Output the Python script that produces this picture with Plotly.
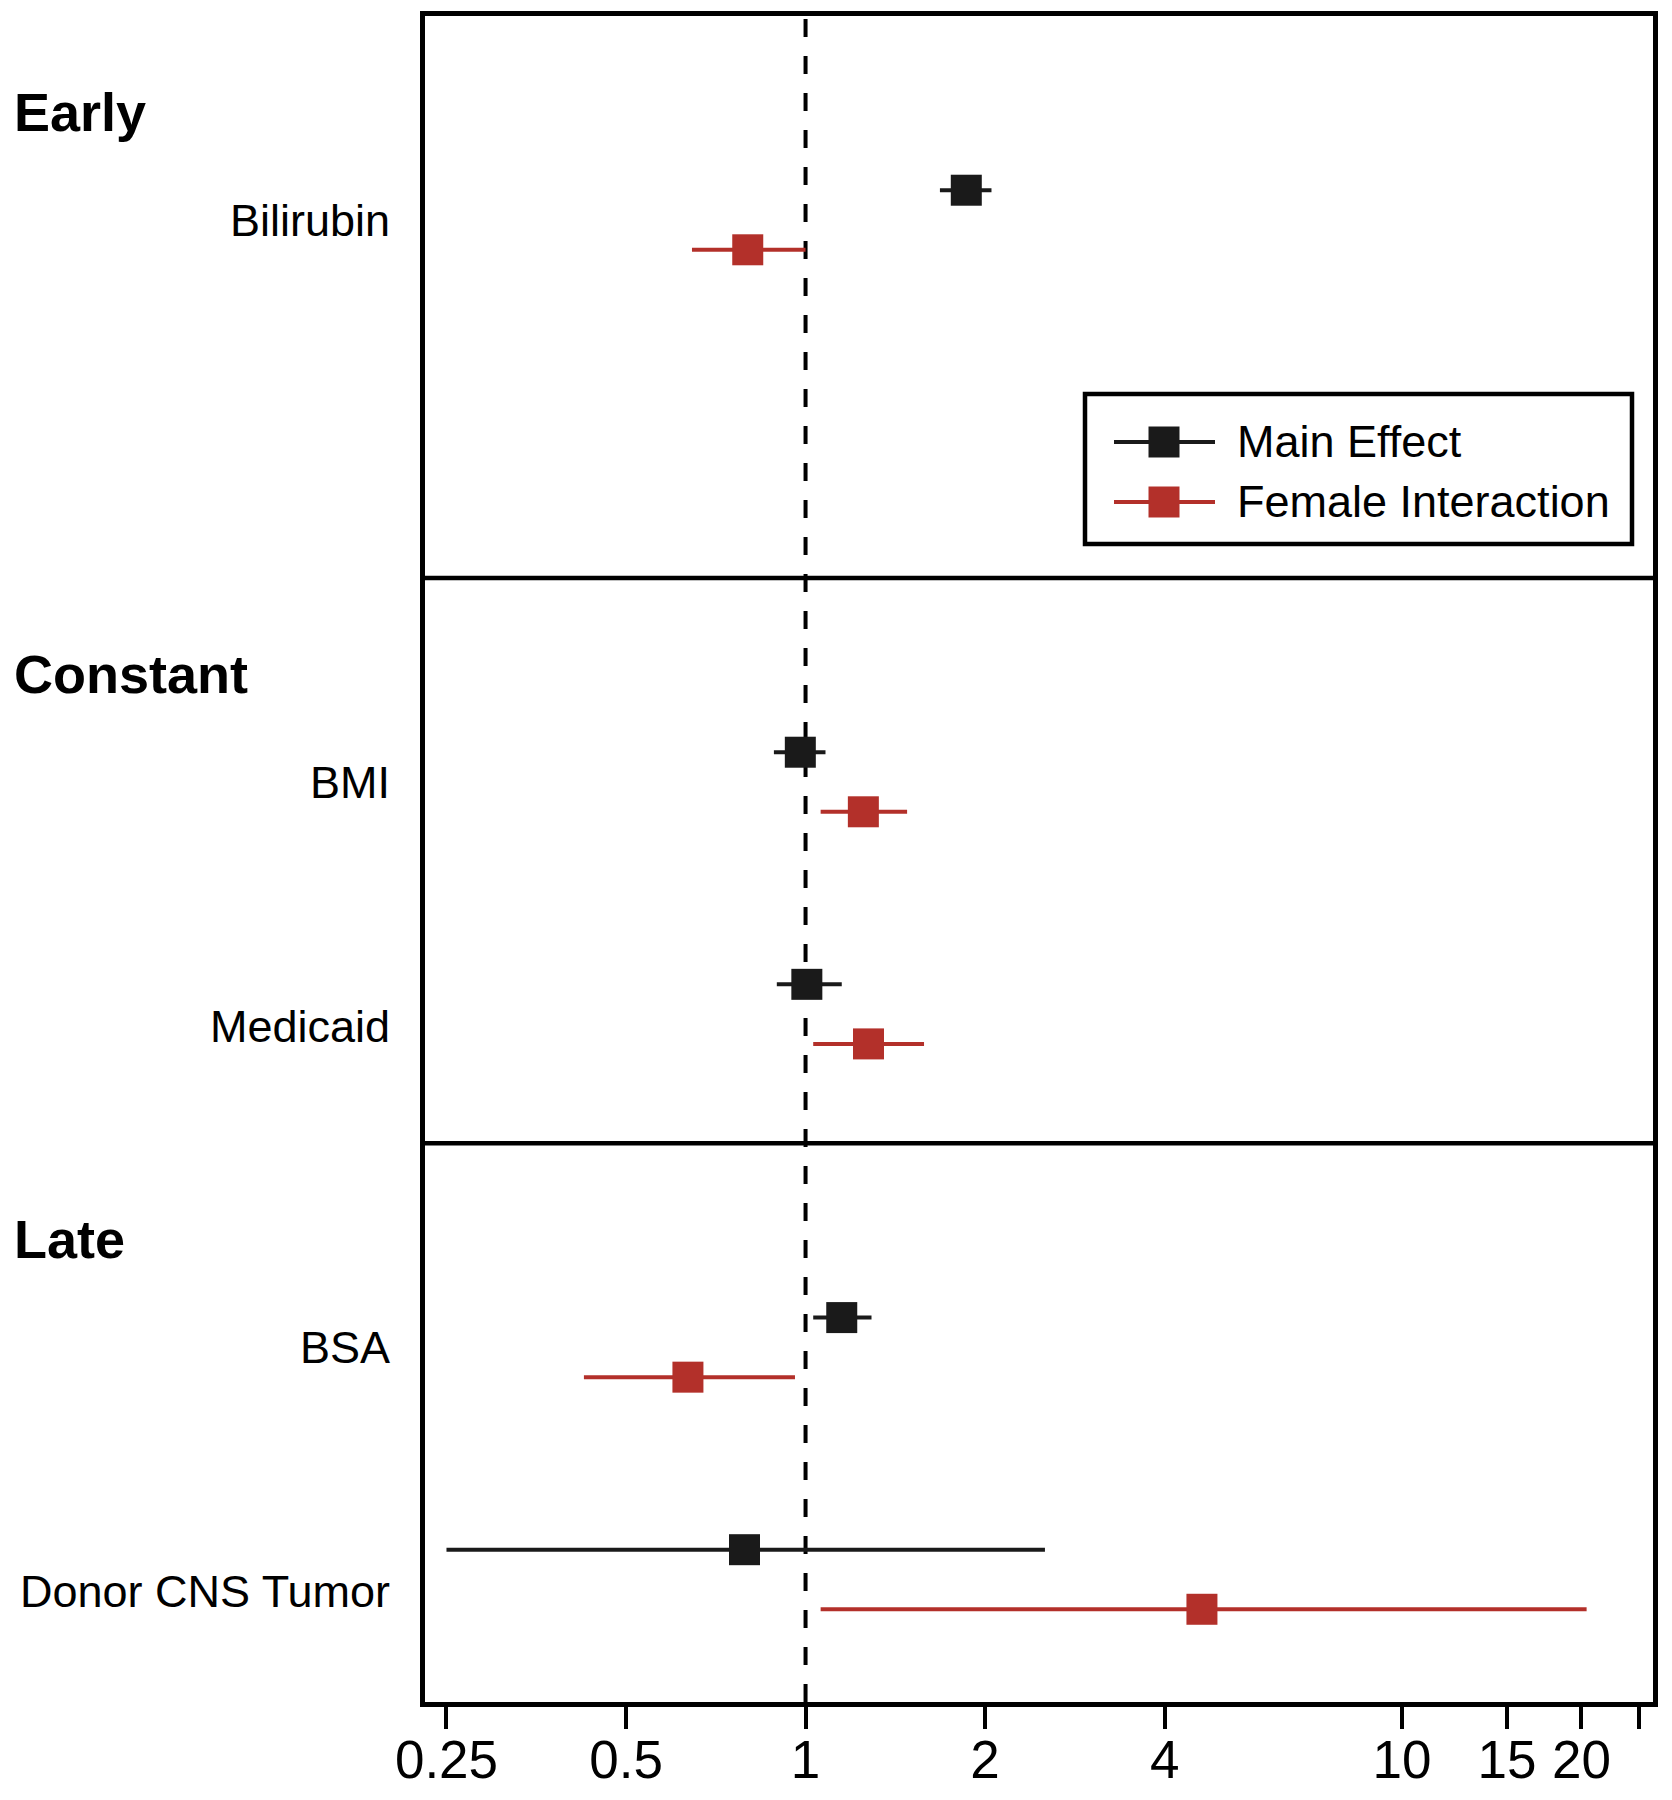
import plotly.graph_objects as go
import math

# ---------------- data ----------------
sections = ["Early", "Constant", "Late"]
variables = ["Bilirubin", "BMI", "Medicaid", "BSA", "Donor CNS Tumor"]
variable_section = [0, 1, 1, 2, 2]
variable_slot = [0, 0, 1, 0, 1]

main_hr = [1.86, 0.98, 1.005, 1.15, 0.79]
main_lo = [1.68, 0.885, 0.895, 1.03, 0.25]
main_hi = [2.05, 1.08, 1.15, 1.29, 2.52]

fem_hr = [0.80, 1.25, 1.275, 0.635, 4.62]
fem_lo = [0.645, 1.06, 1.03, 0.425, 1.06]
fem_hi = [1.00, 1.48, 1.58, 0.96, 20.4]

series_names = ["Main Effect", "Female Interaction"]
tick_vals = [0.25, 0.5, 1, 2, 4, 10, 15, 20, 25]
tick_text = ["0.25", "0.5", "1", "2", "4", "10", "15", "20", ""]

# ---------------- style / layout ----------------
OFF = 8                      # page body margin
W, H = 1672 - 2 * OFF, 1800 - 2 * OFF
ML, MT, MR, MB = 417, 8, 11, 90
PW, PH = W - ML - MR, H - MT - MB
BLACK = "#1a1a1a"
RED = "#b3302a"
FONT = "Liberation Sans, Arial, Helvetica, sans-serif"
MSIZE = 31
ETHICK = 4
FRAME_W = 4.5
X_RANGE = [math.log10(0.2301), math.log10(26.36)]

section_top = [0.0, 1.0, 2.006]
slot_center = [0.363, 0.776]
pair_off = 0.053
label_off = [0.0, 0.022]
heading_pos = 0.17

def ypos(i, sign):
    return section_top[variable_section[i]] + slot_center[variable_slot[i]] + sign * pair_off

fig = go.Figure()
for name, hr, lo, hi, col, sign in [
    (series_names[0], main_hr, main_lo, main_hi, BLACK, -1),
    (series_names[1], fem_hr, fem_lo, fem_hi, RED, +1),
]:
    fig.add_trace(go.Scatter(
        x=hr,
        y=[ypos(i, sign) for i in range(len(variables))],
        mode="markers",
        name=name,
        showlegend=False,
        marker=dict(symbol="square", size=MSIZE, color=col, line=dict(width=0)),
        error_x=dict(type="data", symmetric=False,
                     array=[h - m for h, m in zip(hi, hr)],
                     arrayminus=[m - l for m, l in zip(hr, lo)],
                     color=col, thickness=ETHICK, width=0),
    ))

annotations = []
# variable labels
for i, v in enumerate(variables):
    annotations.append(dict(
        text=v, xref="paper", x=0, xanchor="right", xshift=-33,
        yref="y",
        y=section_top[variable_section[i]] + slot_center[variable_slot[i]] + label_off[variable_slot[i]],
        yanchor="middle", showarrow=False,
        font=dict(family=FONT, size=45, color="black")))
# section headings
for k, s in enumerate(sections):
    annotations.append(dict(
        text="<b>" + s + "</b>", xref="paper", x=0, xanchor="left", xshift=-(ML - 4),
        yref="y", y=section_top[k] + heading_pos, yanchor="middle", showarrow=False,
        font=dict(family=FONT, size=54, color="black")))

shapes = []
# reference line at HR = 1
shapes.append(dict(type="line", xref="x", x0=1, x1=1, yref="y domain", y0=0, y1=1,
                   line=dict(color="black", width=4, dash="18px,19px"), layer="below"))
# section separators
for k in range(1, len(sections)):
    shapes.append(dict(type="line", xref="x domain", x0=0, x1=1, yref="y",
                       y0=section_top[k], y1=section_top[k],
                       line=dict(color="black", width=FRAME_W)))

# custom legend (page-pixel layout converted to domain fractions)
def dx(px):
    return (px - OFF - ML) / PW

def dy(py):
    return (H - MB - (py - OFF)) / PH

shapes.append(dict(type="rect", xref="x domain", yref="y domain",
                   x0=dx(1085), x1=dx(1632), y0=dy(544), y1=dy(394),
                   line=dict(color="black", width=FRAME_W), fillcolor="white"))
for j, (col, py) in enumerate([(BLACK, 442), (RED, 502)]):
    shapes.append(dict(type="line", xref="x domain", yref="y domain",
                       x0=dx(1114), x1=dx(1215), y0=dy(py), y1=dy(py),
                       line=dict(color=col, width=ETHICK)))
    shapes.append(dict(type="rect", xref="x domain", yref="y domain",
                       x0=dx(1164 - MSIZE / 2), x1=dx(1164 + MSIZE / 2),
                       y0=dy(py + MSIZE / 2), y1=dy(py - MSIZE / 2),
                       line=dict(width=0), fillcolor=col))
    annotations.append(dict(text=series_names[j], xref="x domain", yref="y domain",
                            x=dx(1235), y=dy(py), xanchor="left", yanchor="middle",
                            showarrow=False, font=dict(family=FONT, size=45, color="black")))

fig.update_layout(
    width=W, height=H,
    margin=dict(l=ML, r=MR, t=MT, b=MB, pad=0, autoexpand=False),
    paper_bgcolor="white", plot_bgcolor="white",
    font=dict(family=FONT, color="black"),
    showlegend=False,
    annotations=annotations,
    shapes=shapes,
    xaxis=dict(type="log", range=X_RANGE,
               tickvals=tick_vals, ticktext=tick_text,
               ticks="outside", ticklen=22, tickwidth=4, tickcolor="black",
               ticklabelstandoff=-14, automargin=False,
               tickfont=dict(family=FONT, size=53, color="black"),
               showline=True, linecolor="black", linewidth=FRAME_W, mirror=True,
               showgrid=False, zeroline=False),
    yaxis=dict(range=[3, 0], showticklabels=False, ticks="", automargin=False,
               showline=True, linecolor="black", linewidth=FRAME_W, mirror=True,
               showgrid=False, zeroline=False),
)

fig.write_html("out.html")
